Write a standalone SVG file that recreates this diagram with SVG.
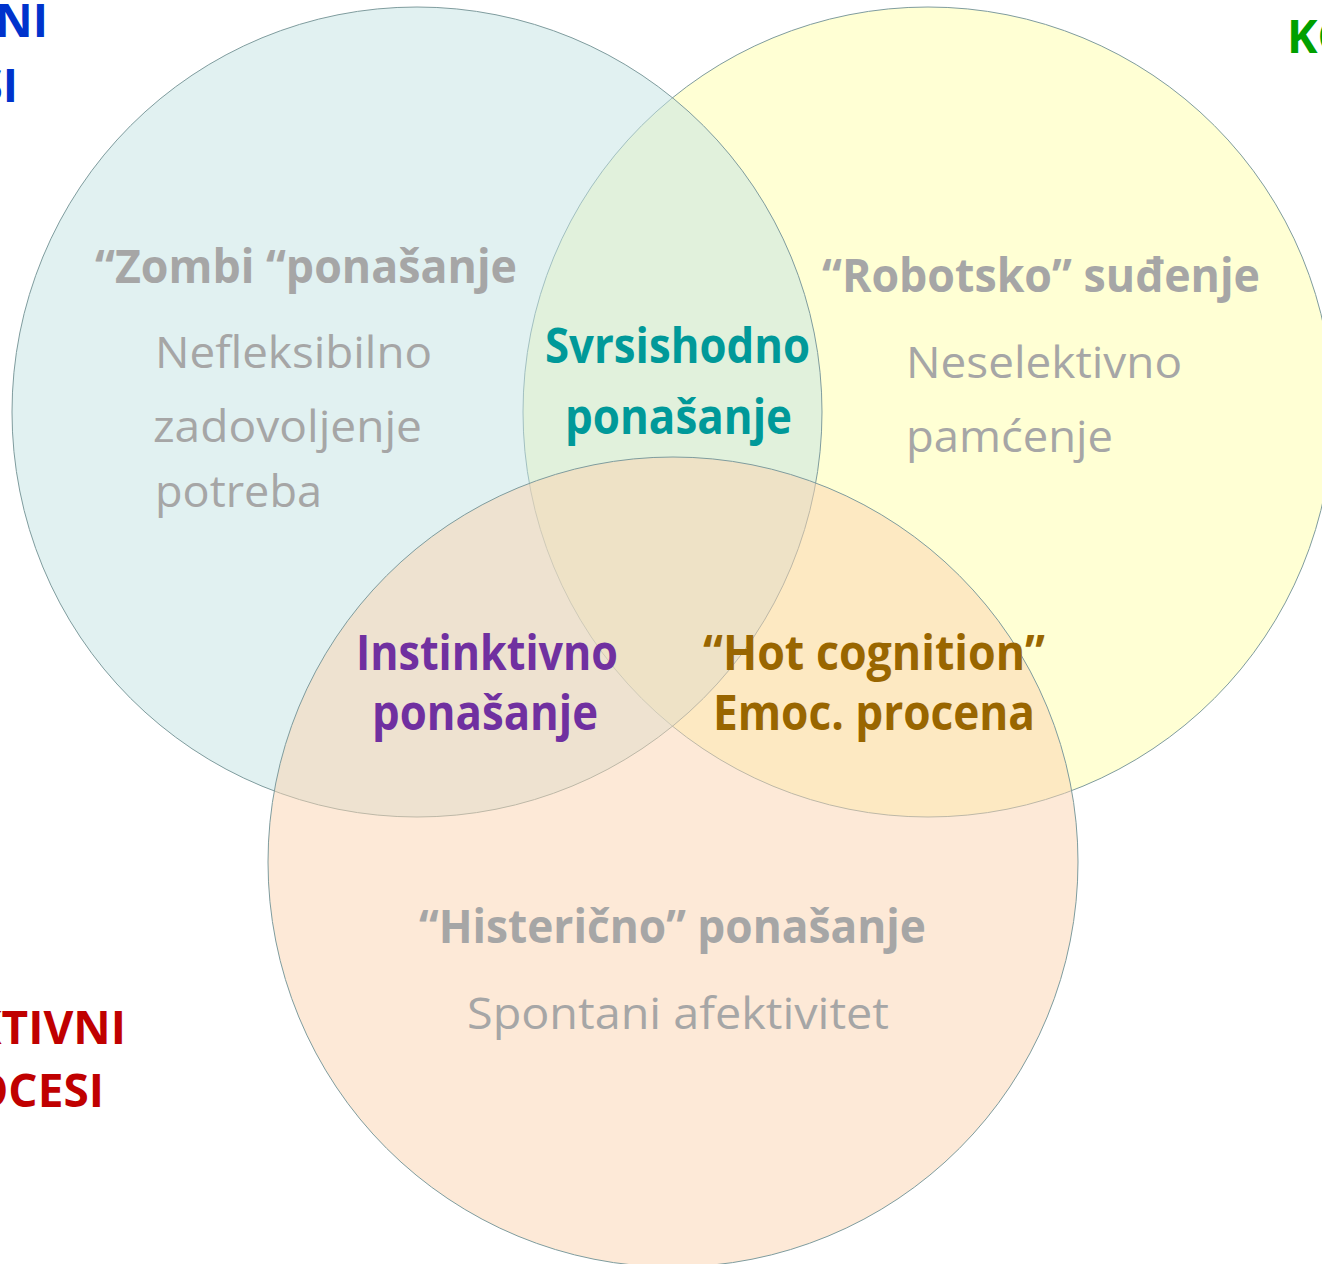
<svg xmlns="http://www.w3.org/2000/svg" width="1322" height="1264" viewBox="0 0 1322 1264">
<style>
.c{stroke:#7f9c9e;stroke-width:1;fill-opacity:0.5}
text{font-family:"Open Sans","Noto Sans","Liberation Sans",sans-serif}
.h{font-weight:700;font-size:47px;fill:#a6a6a6}
.r{font-weight:400;font-size:44px;fill:#a6a6a6}
.b{font-weight:700}
.corner{font-weight:700;font-size:46px}
</style>
<rect width="1322" height="1264" fill="#ffffff"/>
<g id="circle-cognitive"><circle class="c" cx="928" cy="412" r="405" fill="#ffffa9"/></g>
<g id="circle-conative"><circle class="c" cx="417" cy="412" r="405" fill="#c3e3e3"/></g>
<g id="circle-affective"><circle class="c" cx="673" cy="862" r="405" fill="#fbd3af"/></g>
<g id="connectors"></g>
<g id="label-conative">
<text class="corner" x="48" y="37" text-anchor="end" fill="#0033cc">VNI</text>
<text class="corner" x="18" y="102" text-anchor="end" fill="#0033cc">SI</text>
</g>
<g id="label-cognitive">
<text class="corner" x="1287" y="53" fill="#00a000">KO</text>
</g>
<g id="label-affective">
<text class="corner" x="126" y="1044" text-anchor="end" fill="#c00000">KTIVNI</text>
<text class="corner" x="104" y="1107" text-anchor="end" fill="#c00000">OCESI</text>
</g>
<g id="node-zombi">
<text class="h" x="95" y="283" textLength="422" lengthAdjust="spacingAndGlyphs">“Zombi “ponašanje</text>
<text class="r" x="155" y="368" textLength="277" lengthAdjust="spacingAndGlyphs">Nefleksibilno</text>
<text class="r" x="153" y="442" textLength="269" lengthAdjust="spacingAndGlyphs">zadovoljenje</text>
<text class="r" x="155" y="507" textLength="167" lengthAdjust="spacingAndGlyphs">potreba</text>
</g>
<g id="node-robotsko">
<text class="h" x="822" y="292" textLength="438" lengthAdjust="spacingAndGlyphs">“Robotsko” suđenje</text>
<text class="r" x="906" y="378" textLength="276" lengthAdjust="spacingAndGlyphs">Neselektivno</text>
<text class="r" x="906" y="452" textLength="207" lengthAdjust="spacingAndGlyphs">pamćenje</text>
</g>
<g id="node-histericno">
<text class="h" x="419" y="943" textLength="507" lengthAdjust="spacingAndGlyphs">“Histerično” ponašanje</text>
<text class="r" x="467" y="1029" textLength="422" lengthAdjust="spacingAndGlyphs">Spontani afektivitet</text>
</g>
<g id="node-svrsishodno">
<text class="b" x="545" y="363" font-size="48" fill="#009999" textLength="265" lengthAdjust="spacingAndGlyphs">Svrsishodno</text>
<text class="b" x="565" y="434" font-size="48" fill="#009999" textLength="227" lengthAdjust="spacingAndGlyphs">ponašanje</text>
</g>
<g id="node-instinktivno">
<text class="b" x="356" y="670" font-size="48" fill="#7030a0" textLength="262" lengthAdjust="spacingAndGlyphs">Instinktivno</text>
<text class="b" x="372" y="730" font-size="48" fill="#7030a0" textLength="226" lengthAdjust="spacingAndGlyphs">ponašanje</text>
</g>
<g id="node-hot">
<text class="b" x="703" y="670" font-size="48" fill="#996600" textLength="342" lengthAdjust="spacingAndGlyphs">“Hot cognition”</text>
<text class="b" x="713" y="730" font-size="48" fill="#996600" textLength="322" lengthAdjust="spacingAndGlyphs">Emoc. procena</text>
</g>
</svg>
